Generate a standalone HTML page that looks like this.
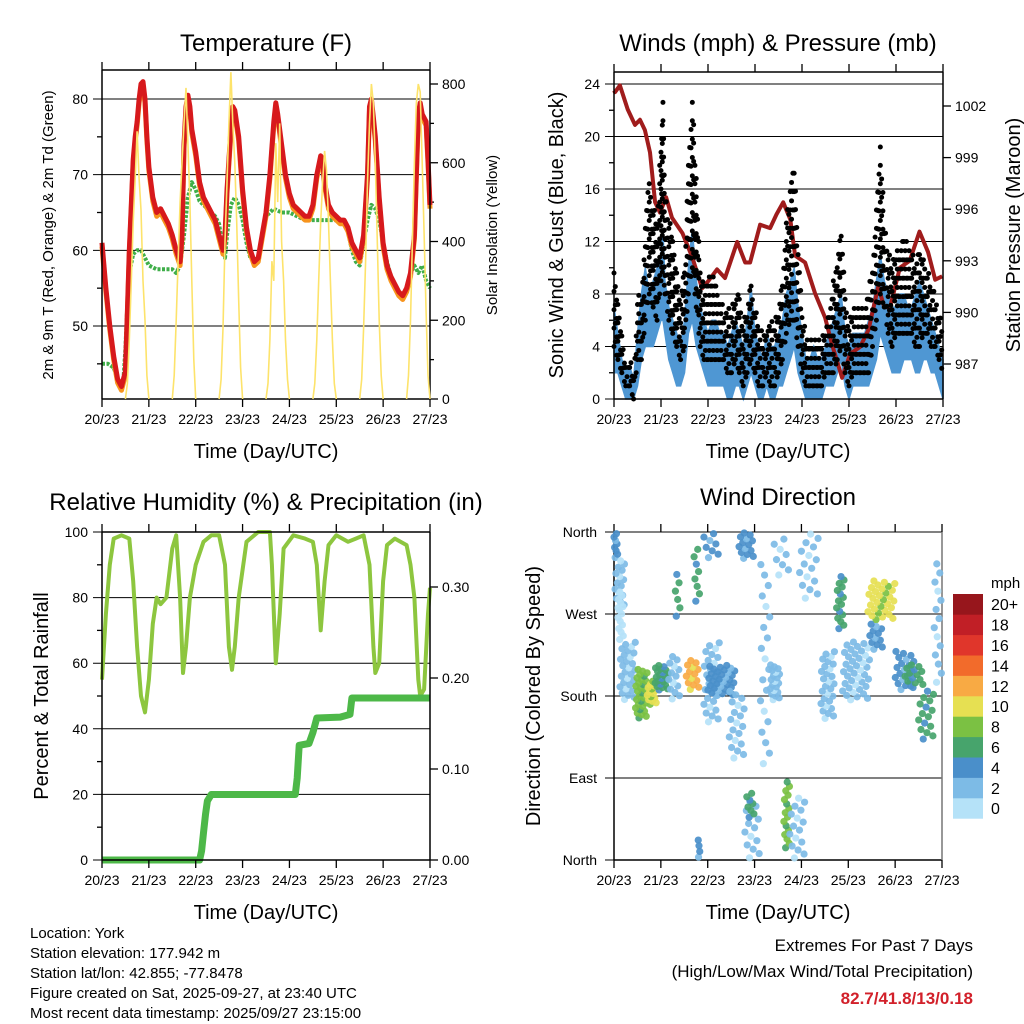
<!DOCTYPE html>
<html><head><meta charset="utf-8">
<style>
html,body{margin:0;padding:0;background:#fff;}
svg{display:block;font-family:"Liberation Sans",Arial,sans-serif;}
</style></head>
<body>
<svg id="chart" width="1024" height="1024" viewBox="0 0 1024 1024" xmlns="http://www.w3.org/2000/svg">
<rect x="0" y="0" width="1024" height="1024" fill="#fff"/>
<text x="266" y="51" font-size="24" text-anchor="middle">Temperature (F)</text>
<text x="778" y="51" font-size="24" text-anchor="middle">Winds (mph) &amp; Pressure (mb)</text>
<text x="266" y="510" font-size="24" text-anchor="middle">Relative Humidity (%) &amp; Precipitation (in)</text>
<text x="778" y="505" font-size="24" text-anchor="middle">Wind Direction</text>
<text x="266" y="458" font-size="20" text-anchor="middle">Time (Day/UTC)</text>
<text x="778" y="458" font-size="20" text-anchor="middle">Time (Day/UTC)</text>
<text x="266" y="919" font-size="20" text-anchor="middle">Time (Day/UTC)</text>
<text x="778" y="919" font-size="20" text-anchor="middle">Time (Day/UTC)</text>
<text transform="translate(53,235) rotate(-90)" font-size="15" text-anchor="middle">2m &amp; 9m T (Red, Orange) &amp; 2m Td (Green)</text>
<text transform="translate(497,235) rotate(-90)" font-size="15" text-anchor="middle">Solar Insolation (Yellow)</text>
<text transform="translate(563,235) rotate(-90)" font-size="20" text-anchor="middle">Sonic Wind &amp; Gust (Blue, Black)</text>
<text transform="translate(1020,235) rotate(-90)" font-size="20" text-anchor="middle">Station Pressure (Maroon)</text>
<text transform="translate(48,696) rotate(-90)" font-size="20" text-anchor="middle">Percent &amp; Total Rainfall</text>
<text transform="translate(540,696) rotate(-90)" font-size="20" text-anchor="middle">Direction (Colored By Speed)</text>
<g font-size="15">
<text x="30" y="938">Location: York</text>
<text x="30" y="958">Station elevation: 177.942 m</text>
<text x="30" y="978">Station lat/lon: 42.855; -77.8478</text>
<text x="30" y="998">Figure created on Sat, 2025-09-27, at 23:40 UTC</text>
<text x="30" y="1018">Most recent data timestamp: 2025/09/27 23:15:00</text>
</g>
<g font-size="17" text-anchor="end">
<text x="973" y="951">Extremes For Past 7 Days</text>
<text x="973" y="977">(High/Low/Max Wind/Total Precipitation)</text>
<text x="973" y="1004" fill="#d2202a" font-weight="bold">82.7/41.8/13/0.18</text>
</g>
</svg>
<script>
// ---------- DATA ----------
const dayLabels = ["20/23","21/23","22/23","23/23","24/23","25/23","26/23","27/23"];
const tempHours = [0,2,4,6,8,10,12,13,14,15,16,17,18,19,20,21,22,23,24,26,28,30,32,34,36,38,40,41,42,43,44,45,46,48,50,52,54,56,58,60,62,63,64,66,67,68,70,72,74,76,78,80,82,84,86,88,89,90,92,94,96,98,100,102,104,106,108,110,112,113,114,116,118,120,122,124,126,128,130,132,134,136,137,138,139,140,142,144,146,148,150,152,154,156,158,160,161,162,163,164,166,167,168];
const tempValues = [61,55,50,46,43,42,44,52,60,66,72,75,77,80,82,82.3,80,75,71,67,65,65.5,64.5,63.5,62,60,58.5,62,74,79,80.5,79,76,73,69,67,66,65,64,62,60,62,68,76,79,78.5,75,68,63,60,58.5,59,62,65,70,77,79.5,78,74,70,67.5,66,65.5,65,64.5,64.5,66,70,72.5,72,69,66,65,64.5,64,64,63,61,60,59,62,70,79,80,77.5,75,67,61,58,56.5,55.5,54.5,54,55,57,62,70,78,79.5,78,77,72,66];
const dewHours = [0,3,6,8,10,11,12,13,14,16,18,20,22,24,28,32,36,38,40,42,44,46,48,50,52,54,56,58,60,62,63,64,66,68,70,72,74,76,78,80,82,84,86,88,92,96,100,104,108,112,116,120,124,126,128,130,132,134,136,138,140,142,144,146,148,150,152,154,156,158,160,162,164,166,168];
const dewValues = [45,45,44.5,43,42,43,47,53,57,59.5,60,60,59,58,57.5,57.5,57.5,57,58,62,67,69,68,66.5,66,65.5,65,64.5,63.5,60,59,62,66,67,66,64,61,59,58.5,59,62,64.5,65,65.5,65,65,64.5,64,64,64,64,64,63.5,62.5,60,58.5,58,61,64,66,65.5,64,61,58.5,56.5,55.5,54.5,54,55,57,58,57,58,56,55];
// solar insolation, hourly 11..23 UTC for each of 7 days
const solarDay1 = [0,40,150,300,450,560,680,560,480,300,200,60,0];
const solarDay2 = [0,60,200,350,500,600,700,790,650,500,300,100,0];
const solarDay3 = [0,50,180,400,550,700,830,700,600,450,250,80,0];
const solarDay4 = [0,40,150,350,300,650,500,700,400,300,150,50,0];
const solarDay5 = [0,40,150,300,450,550,630,580,450,300,150,40,0];
const solarDay6 = [0,50,180,350,550,700,800,750,600,400,200,60,0];
const solarDay7 = [0,60,200,400,600,750,800,780,600,420,220,60,0];
const windHours = [0,2,4,6,8,10,12,14,16,18,20,22,24,25,26,28,30,32,34,36,38,40,42,44,46,48,50,52,54,56,58,60,62,64,66,68,70,72,74,76,78,80,82,84,86,88,90,92,94,96,98,100,102,104,106,108,110,112,114,116,118,120,122,124,126,128,130,132,134,136,138,140,142,144,146,148,150,152,154,156,158,160,162,164,166,168];
const windLow  = [2,2,1,0,0,0,1,3,4,4,4,5,6,6,5,3,2,1,1,2,5,6,4,3,2,1,1,1,1,1,0,0,1,1,0,1,2,1,0,0,1,0,0,1,1,2,3,4,2,1,0,0,0,0,0,1,1,1,2,3,1,0,1,1,1,1,1,2,3,5,4,3,2,2,2,3,3,3,2,2,3,3,2,2,1,0];
const windHigh = [7,5,3,2.5,2.5,1.5,5,8,10,8,9,10,11,12.8,9,7,6,5,4,6,10,13,9,7,6,5,6,6,5,5,4,5,6,5,4,6,8.5,5,4,3,5,4,4,5,6,8,9,10,7,5,3,3,4,3,3,4,5,6,7,8,5,4,5,5,5,5,6,7,9,11,9,8,7,7,8,8,7,7,8,9,8,7,6,5,4,3];
const gustLow  = [4,3,2,1,1,0,3,3,6,8,7,6,9,10,8,6,5,4,3,4,8,10,7,4,3,3,3,3,3,3,2,2,3,2,1,2,3,2,1,1,2,1,1,2,3,5,6,6,4,2,1,1,1,1,1,2,2,2,3,4,2,1,2,2,2,2,2,4,6,8,7,5,4,5,5,5,5,5,4,4,5,5,4,4,3,2];
const gustHigh = [10.5,8,5,3,3,2.5,8,8,14,17,15,14,20,23,16,14,13,10,8,10,18,23,17,10,9,9,10,9,8,7,7,7,8,8,6,7,9,7,6,5,6,6,6,7,9,14,16,18,12,7,5,5,5,5,5,6,7,9,11,13.5,8,6,7,7,7,7,8,11,15,19.5,14,11,11,12,12,13,12,11,11,12,11,10,9,8,7,6];
const presHours = [0,0.5,3,7,10.7,13.3,15.8,18.4,21,23.5,26.6,29.6,35,40,45,48,52.6,56.7,62.9,67,69.5,74.6,79.7,83,86.4,90,92.5,97.6,102.7,107.8,111.4,116.5,120.6,125.7,130,134.9,138,141,146,151,156,160.4,164,167.6];
const presValues = [1002.9,1002.8,1003.2,1001.8,1000.9,1001.2,1000.6,999.3,996.4,995.8,996.7,995.5,994.6,993.2,991.4,991.8,992.5,992.0,994.1,992.9,992.9,995.1,994.9,995.7,996.4,995.4,993.3,992.9,991.1,989.7,988.1,986.2,987.6,988.0,989.0,991.5,990.3,990.3,992.6,993.0,994.7,993.5,991.9,992.1];
const rhHours = [0,2,4,6,10,14,16,18,20,22,24,26,28,30,33,36,38,40,41.5,43,45,48,52,56,60,63,65,66.6,68,70,74,80,86,87,89,91,93,98,104,108,110,112,114,116,120,126,130,134,137,139,140,142,144,146,150,156,158,160,162,163,165,167,168];
const rhValues = [55,75,90,98,99,98,85,65,50,45,55,72,80,78,80,95,99,80,57,65,80,90,97,99,99,90,65,58,65,80,97,100,100,90,60,75,95,99,98,97,90,70,85,96,99,97,98,99,90,65,57,60,85,96,98,96,90,80,55,50,52,75,83];
const rainHours = [0,50,51,52,53,54,56,99,100,101,106,108,110,122,127,128,168];
const rainValues = [0,0,0.01,0.03,0.05,0.065,0.072,0.072,0.09,0.126,0.128,0.14,0.156,0.157,0.16,0.178,0.178];
// wind direction clusters: time range (h), direction range (deg), speed (mph), dot count
const dirStart = [0,0.5,2,3,11,17,21,28,31,37,41,43,46,46,48,59,64,67,68,75,80,87,90,95,82,106,114,117,130,131,144,149,156,164];
const dirEnd   = [2,5.6,5,11,17,22,28,34,34,44,44,44,54,54,62,67,72,75,72,80,85,90,98,105,90,113,118,131,144,138,154,159,164,168];
const dirLow   = [330,275,240,175,155,170,186,175,263,186,280,0,330,150,180,110,330,0,45,100,175,11,0,285,310,154,252,175,263,230,186,190,131,190];
const dirHigh  = [360,330,296,240,210,197,214,225,318,220,345,25,360,240,214,187,360,66,75,330,215,88,70,360,355,230,313,240,307,260,230,215,187,330];
const dirSpeed = [4,2,0,1,8,10,6,2,6,11,6,4,4,2,4,2,3,2,6,2,2,7,2,2,2,2,6,2,9,4,4,6,5,2];
const dirCount = [8,16,14,28,30,16,22,14,6,14,8,4,8,28,34,20,14,14,8,20,20,16,16,16,8,28,16,40,30,12,20,14,16,14];
const speedLabels = ["0","2","4","6","8","10","12","14","16","18","20+"];
const speedColors = ["#b5e2f8","#7dbbe6","#4a8fca","#47a46c","#7bc143","#e6e052","#f8aa44","#f26b2b","#e0362b","#c11f26","#97161c"];

// ---------- HELPERS ----------
const NS = "http://www.w3.org/2000/svg";
const svg = document.getElementById("chart");
function mk(tag, attrs, parent) {
  const e = document.createElementNS(NS, tag);
  for (const k in attrs) e.setAttribute(k, attrs[k]);
  (parent || svg).appendChild(e);
  return e;
}
function group(name) {
  const g = mk("g", {});
  
  
  return g;
}
function lin(d0, d1, r0, r1) { return v => r0 + (v - d0) / (d1 - d0) * (r1 - r0); }
function pathFrom(xs, ys, sx, sy) {
  return xs.map((x, i) => (i ? "L" : "M") + sx(x).toFixed(1) + "," + sy(ys[i]).toFixed(1)).join("");
}
function tick(g, x1, y1, x2, y2, name) {
  const t = mk("line", {x1, y1, x2, y2, stroke: "#000", "stroke-width": 1.3}, g);
  
  
}
function label(g, x, y, txt, anchor, name, size) {
  const t = mk("text", {x, y, "font-size": size || 14, "text-anchor": anchor}, g);
  t.textContent = txt;
  
  
}
function timeAxis(g, x0, x1, yTop, yBot, prefix) {
  const sx = lin(0, 7, x0, x1);
  for (let d = 0; d < dayLabels.length; d++) {
    const x = sx(d);
    tick(g, x, yBot, x, yBot + 8, prefix + "-x-tick");
    tick(g, x, yTop, x, yTop - 8, prefix + "-top-tick");
    label(g, x, yBot + 25, dayLabels[d], "middle", prefix + "-x-tick-label");
  }
}
function frame(g, x0, x1, y0, y1, name, rightColor) {
  const l = mk("line", {x1: x0, y1: y0, x2: x0, y2: y1, stroke: "#000", "stroke-width": 1.5}, g);
  
  
  const b = mk("line", {x1: x0, y1: y1, x2: x1, y2: y1, stroke: "#000", "stroke-width": 1.5}, g);
  
  
  const t = mk("line", {x1: x0, y1: y0, x2: x1, y2: y0, stroke: "#000", "stroke-width": 1.5}, g);
  
  
  const r = mk("line", {x1: x1, y1: y0, x2: x1, y2: y1, stroke: rightColor || "#000", "stroke-width": 1.5}, g);
  
  
}

// ---------- PANEL 1: TEMPERATURE ----------
(function () {
  const X0 = 102, X1 = 430, Y0 = 70, Y1 = 399;
  const sx = lin(0, 168, X0, X1);
  const sy = lin(80, 50, 99, 326);
  const ss = lin(0, 800, 399, 84);
  const g = group("temperature-panel");
  for (const v of [50, 60, 70, 80]) {
    const gl = mk("line", {x1: X0 - 9, y1: sy(v), x2: X1, y2: sy(v), stroke: "#000", "stroke-width": 1}, g);
    
    
    label(g, X0 - 14, sy(v) + 5, String(v), "end", "temp-y-tick-label");
  }
  for (const v of [45, 55, 65, 75]) tick(g, X0 - 5, sy(v), X0, sy(v), "temp-minor-tick");
  for (const v of [0, 200, 400, 600, 800]) {
    tick(g, X1, ss(v), X1 + 8, ss(v), "solar-y-tick");
    label(g, X1 + 12, ss(v) + 5, String(v), "start", "solar-y-tick-label");
  }
  for (const v of [100, 300, 500, 700]) tick(g, X1, ss(v), X1 + 4, ss(v), "solar-minor-tick");
  const solarDays = [solarDay1, solarDay2, solarDay3, solarDay4, solarDay5, solarDay6, solarDay7];
  const sg = group("solar-insolation-series");
  solarDays.forEach((vals, d) => {
    const hrs = vals.map((_, i) => 12 + 24 * d + i);
    const p = mk("path", {d: pathFrom(hrs, vals, sx, ss), fill: "none", stroke: "#fde36b", "stroke-width": 1.6}, sg);
    
    
  });
  const dew = mk("path", {d: pathFrom(dewHours, dewValues, sx, sy), fill: "none", stroke: "#3fae49", "stroke-width": 4, "stroke-dasharray": "3 1.5", "stroke-linejoin": "round"}, g);
  
  
  const or = mk("path", {d: pathFrom(tempHours, tempValues.map(v => v - 0.3), sx, sy), fill: "none", stroke: "#f7941d", "stroke-width": 5, transform: "translate(0,1.5)", "stroke-linejoin": "round"}, g);
  
  
  const red = mk("path", {d: pathFrom(tempHours, tempValues, sx, sy), fill: "none", stroke: "#d7191c", "stroke-width": 5, "stroke-linejoin": "round"}, g);
  
  
  frame(g, X0, X1, Y0, Y1, "temp");
  timeAxis(g, X0, X1, Y0, Y1, "temp");
})();

// ---------- PANEL 2: WINDS & PRESSURE ----------
(function () {
  const X0 = 614, X1 = 943, Y0 = 72, Y1 = 399;
  const sx = lin(0, 168, X0, X1);
  const sy = lin(0, 24, 399, 84);
  const sp = lin(987, 1002, 364, 106);
  const g = group("winds-panel");
  for (let v = 0; v <= 24; v += 4) {
    const gl = mk("line", {x1: X0 - 9, y1: sy(v), x2: X1, y2: sy(v), stroke: "#000", "stroke-width": 1}, g);
    
    
    label(g, X0 - 14, sy(v) + 5, String(v), "end", "wind-y-tick-label");
  }
  for (let v = 2; v < 24; v += 4) tick(g, X0 - 5, sy(v), X0, sy(v), "wind-minor-tick");
  for (let v = 987; v <= 1002; v += 3) {
    tick(g, X1, sp(v), X1 + 8, sp(v), "pressure-y-tick");
    label(g, X1 + 12, sp(v) + 5, String(v), "start", "pressure-y-tick-label");
  }
  const gg = group("gust-dots");
  for (let i = 0; i < windHours.length - 1; i++) {
    for (let s = 0; s < 3; s++) {
      const f = s / 3;
      const h = windHours[i] + f * (windHours[i + 1] - windHours[i]);
      const lo = gustLow[i] + f * (gustLow[i + 1] - gustLow[i]);
      const hi = gustHigh[i] + f * (gustHigh[i + 1] - gustHigh[i]);
      for (let v = lo + (s % 2) * 0.7; v <= hi; v += 1.4) {
        const c = mk("circle", {cx: sx(h), cy: sy(v), r: 2.5, fill: "#000"}, gg);
        
        
      }
    }
  }
  const band = mk("path", {d: pathFrom(windHours, windHigh, sx, sy) + pathFrom(windHours.slice().reverse(), windLow.slice().reverse(), sx, sy).replace("M", "L") + "Z", fill: "#4f97d3", stroke: "#4f97d3", "stroke-width": 1.5}, g);
  
  
  const pr = mk("path", {d: pathFrom(presHours, presValues, sx, sp), fill: "none", stroke: "#a01c1c", "stroke-width": 4, "stroke-linejoin": "round"}, g);
  
  
  frame(g, X0, X1, Y0, Y1, "wind");
  timeAxis(g, X0, X1, Y0, Y1, "wind");
})();

// ---------- PANEL 3: HUMIDITY & PRECIP ----------
(function () {
  const X0 = 102, X1 = 430, Y0 = 532, Y1 = 860;
  const sx = lin(0, 168, X0, X1);
  const sy = lin(0, 100, 860, 532);
  const sr = lin(0, 0.3, 860, 587);
  const g = group("humidity-panel");
  for (let v = 0; v <= 100; v += 20) {
    const gl = mk("line", {x1: X0 - 9, y1: sy(v), x2: X1, y2: sy(v), stroke: "#000", "stroke-width": 1}, g);
    
    
    label(g, X0 - 14, sy(v) + 5, String(v), "end", "rh-y-tick-label");
  }
  for (let v = 10; v < 100; v += 20) tick(g, X0 - 5, sy(v), X0, sy(v), "rh-minor-tick");
  for (const v of [0, 0.1, 0.2, 0.3]) {
    tick(g, X1, sr(v), X1 + 8, sr(v), "rain-y-tick");
    label(g, X1 + 12, sr(v) + 5, v.toFixed(2), "start", "rain-y-tick-label");
  }
  const rh = mk("path", {d: pathFrom(rhHours, rhValues, sx, sy), fill: "none", stroke: "#8dc63f", "stroke-width": 4, "stroke-linejoin": "round"}, g);
  
  
  const rn = mk("path", {d: pathFrom(rainHours, rainValues, sx, sr), fill: "none", stroke: "#4db848", "stroke-width": 7, "stroke-linejoin": "round"}, g);
  
  
  frame(g, X0, X1, Y0, Y1, "rh");
  timeAxis(g, X0, X1, Y0, Y1, "rh");
})();

// ---------- PANEL 4: WIND DIRECTION ----------
(function () {
  const X0 = 614, X1 = 942, Y0 = 532, Y1 = 860;
  const sx = lin(0, 168, X0, X1);
  const sy = lin(0, 360, 860, 532);
  const g = group("direction-panel");
  const names = ["North", "East", "South", "West", "North"];
  names.forEach((n, i) => {
    const v = i * 90;
    const gl = mk("line", {x1: X0 - 9, y1: sy(v), x2: X1, y2: sy(v), stroke: "#000", "stroke-width": 1}, g);
    
    
    label(g, X0 - 17, sy(v) + 5, n, "end", "direction-y-tick-label");
  });
  const dg = group("direction-points");
  for (let c = 0; c < dirStart.length; c++) {
    const n = dirCount[c];
    const idx = Math.min(10, Math.max(0, Math.round(dirSpeed[c] / 2)));
    for (let i = 0; i < n; i++) {
      const u = (i + 0.5) / n;
      const w = (i * 0.618034 + 0.3) % 1;
      const h = dirStart[c] + w * (dirEnd[c] - dirStart[c]);
      const d = dirLow[c] + u * (dirHigh[c] - dirLow[c]);
      const col = speedColors[(i % 5 === 0 && idx > 0) ? idx - 1 : idx];
      const p = mk("circle", {cx: sx(h), cy: sy(d), r: 3.6, fill: col, opacity: 0.92}, dg);
      
      
    }
  }
  const ax = mk("line", {x1: X0, y1: Y0, x2: X0, y2: Y1, stroke: "#000", "stroke-width": 1.5}, g);
  
  
  const bx = mk("line", {x1: X0, y1: Y1, x2: X1, y2: Y1, stroke: "#000", "stroke-width": 1.5}, g);
  
  
  const rx = mk("line", {x1: X1, y1: Y0, x2: X1, y2: Y1, stroke: "#777", "stroke-width": 1.5}, g);
  
  
  timeAxis(g, X0, X1, Y0, Y1, "direction");
  const cb = group("speed-colorbar");
  label(cb, 991, 588, "mph", "start", "colorbar-title", 15);
  const bh = 20.4;
  for (let i = 0; i < speedColors.length; i++) {
    const y = 594 + (10 - i) * bh;
    const r = mk("rect", {x: 953, y: y, width: 30, height: bh + 0.3, fill: speedColors[i]}, cb);
    
    
    label(cb, 991, y + bh / 2 + 6, speedLabels[i], "start", "colorbar-label", 16);
  }
})();
</script>
</body></html>
